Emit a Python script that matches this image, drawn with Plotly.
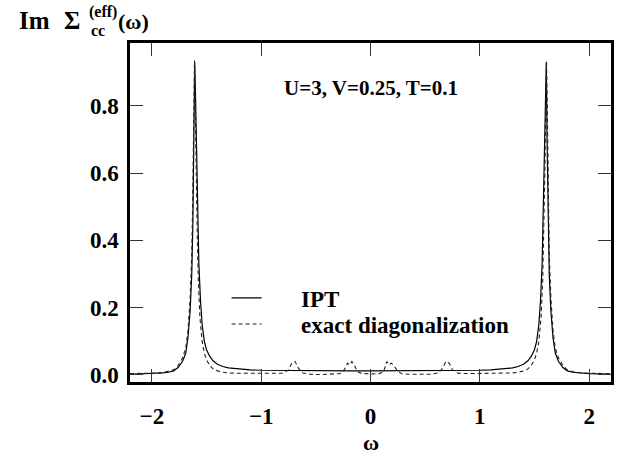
import plotly.graph_objects as go

# ---- data ----
ipt_x = [-2.2, -2.1, -2.0, -1.9, -1.85, -1.8, -1.76, -1.72, -1.69, -1.67,
         -1.65, -1.635, -1.625, -1.615, -1.608, -1.6, -1.59, -1.58, -1.57, -1.555,
         -1.54, -1.52, -1.5, -1.47, -1.44, -1.4, -1.35, -1.3, -1.2, -1.1,
         -1.0, -0.8, -0.6, -0.4, -0.2,
         0.0,
         0.2, 0.4, 0.6, 0.8, 1.0,
         1.1, 1.2, 1.3, 1.35, 1.4, 1.44, 1.47, 1.5, 1.52, 1.54,
         1.555, 1.57, 1.58, 1.59, 1.6, 1.608, 1.615, 1.625, 1.635, 1.65,
         1.67, 1.69, 1.72, 1.76, 1.8, 1.85, 1.9, 2.0, 2.1, 2.2]
ipt_y = [0.002, 0.003, 0.004, 0.006, 0.008, 0.012, 0.022, 0.04, 0.065, 0.11,
         0.19, 0.3, 0.45, 0.7, 0.93, 0.82, 0.64, 0.48, 0.33, 0.22,
         0.15, 0.1, 0.075, 0.055, 0.042, 0.032, 0.025, 0.021, 0.017, 0.015,
         0.014, 0.013, 0.013, 0.012, 0.012,
         0.012,
         0.012, 0.012, 0.013, 0.013, 0.014,
         0.015, 0.017, 0.021, 0.025, 0.032, 0.042, 0.055, 0.075, 0.1, 0.15,
         0.22, 0.33, 0.48, 0.64, 0.82, 0.93, 0.7, 0.45, 0.3, 0.19,
         0.11, 0.065, 0.04, 0.022, 0.012, 0.008, 0.006, 0.004, 0.003, 0.002]

ed_x = [-2.2, -2.1, -2.0, -1.9, -1.85, -1.8, -1.76, -1.72, -1.69, -1.67,
        -1.65, -1.635, -1.625, -1.617, -1.61, -1.603, -1.595, -1.585, -1.575, -1.56,
        -1.54, -1.52, -1.5, -1.47, -1.44, -1.4, -1.35, -1.3, -1.2, -1.0,
        -0.9, -0.8, -0.75, -0.72, -0.69, -0.66, -0.62, -0.55, -0.45, -0.35,
        -0.28, -0.24, -0.21, -0.19, -0.17, -0.15, -0.12, -0.08, -0.03,
        0.0,
        0.03, 0.08, 0.12, 0.15, 0.17, 0.19, 0.21, 0.24, 0.28,
        0.35, 0.45, 0.55, 0.62, 0.66, 0.69, 0.72, 0.75, 0.8, 0.9,
        1.0, 1.2, 1.3, 1.35, 1.4, 1.44, 1.47, 1.5, 1.52, 1.54,
        1.56, 1.575, 1.585, 1.595, 1.603, 1.61, 1.617, 1.625, 1.635, 1.65,
        1.67, 1.69, 1.72, 1.76, 1.8, 1.85, 1.9, 2.0, 2.1, 2.2]
ed_y = [0.004, 0.004, 0.005, 0.007, 0.01, 0.015, 0.028, 0.05, 0.08, 0.13,
        0.23, 0.36, 0.55, 0.8, 0.935, 0.8, 0.6, 0.42, 0.28, 0.17,
        0.1, 0.065, 0.045, 0.028, 0.018, 0.012, 0.008, 0.006, 0.005, 0.004,
        0.004, 0.005, 0.015, 0.035, 0.04, 0.02, 0.006, 0.002, 0.001, 0.002,
        0.004, 0.015, 0.035, 0.03, 0.04, 0.03, 0.01, 0.004, 0.003,
        0.003,
        0.003, 0.004, 0.01, 0.04, 0.03, 0.035, 0.03, 0.015, 0.004,
        0.002, 0.001, 0.002, 0.006, 0.02, 0.04, 0.035, 0.015, 0.005, 0.004,
        0.004, 0.005, 0.006, 0.008, 0.012, 0.018, 0.028, 0.045, 0.065, 0.1,
        0.17, 0.28, 0.42, 0.6, 0.8, 0.935, 0.8, 0.55, 0.36, 0.23,
        0.13, 0.08, 0.05, 0.028, 0.015, 0.01, 0.007, 0.005, 0.004, 0.004]

x_ticks = [-2, -1, 0, 1, 2]
x_ticktext = ["\u22122", "\u22121", "0", "1", "2"]
y_ticks = [0.0, 0.2, 0.4, 0.6, 0.8]
y_ticktext = ["0.0", "0.2", "0.4", "0.6", "0.8"]

names = ["IPT", "exact diagonalization"]
params_text = "U=3, V=0.25, T=0.1"

# ---- layout geometry ----
W, H = 626, 458
ML, MR, MT, MB = 130, 13, 43, 76
PW, PH = W - ML - MR, H - MT - MB


def px_x(p):
    return (p - ML) / PW


def px_y(p):
    return (H - MB - p) / PH


FONT = "Liberation Serif"
FS = 23
pad = "\u00a0" * 6

fig = go.Figure()
fig.add_trace(go.Scatter(x=ipt_x, y=ipt_y, mode="lines", name=pad + names[0],
                         legend="legend",
                         line=dict(color="black", width=1.2)))
fig.add_trace(go.Scatter(x=ed_x, y=ed_y, mode="lines", name=pad + names[1],
                         legend="legend2",
                         line=dict(color="#222", width=1.1, dash="4px,3px")))

leg_common = dict(xanchor="left", yanchor="middle", bgcolor="rgba(0,0,0,0)",
                  font=dict(size=FS, family=FONT, weight="bold", color="black"),
                  itemwidth=30, borderwidth=0)

fig.update_layout(
    width=W, height=H,
    margin=dict(l=ML, r=MR, t=MT, b=MB, pad=0),
    paper_bgcolor="white", plot_bgcolor="white",
    font=dict(family=FONT, size=FS, color="black", weight="bold"),
    showlegend=True,
    legend=dict(x=px_x(227), y=px_y(298), **leg_common),
    legend2=dict(x=px_x(227), y=px_y(324), **leg_common),
    xaxis=dict(range=[-2.2, 2.2], tickvals=x_ticks, ticktext=x_ticktext,
               ticks="inside", ticklen=13, tickwidth=1.3, tickcolor="#333",
               showline=True, linewidth=2.5, linecolor="black", mirror="allticks",
               showgrid=False, zeroline=False, ticklabelstandoff=12),
    yaxis=dict(range=[-0.021, 0.987], tickvals=y_ticks, ticktext=y_ticktext,
               ticks="inside", ticklen=13, tickwidth=1.3, tickcolor="#333",
               showline=True, linewidth=2.5, linecolor="black", mirror="allticks",
               showgrid=False, zeroline=False, ticklabelstandoff=4),
    yaxis2=dict(range=[-0.021, 0.987], overlaying="y", tickvals=[0.0],
                ticks="inside", ticklen=15, tickwidth=3.5, tickcolor="black",
                showticklabels=False, showline=False, mirror="ticks",
                showgrid=False, zeroline=False),
)

ann = [
    dict(text=params_text, x=0.0, y=0.853, xref="x", yref="y",
         xanchor="center", yanchor="middle", font=dict(size=21)),
    dict(text="\u03c9", x=px_x(372), y=px_y(442), xref="paper", yref="paper",
         xanchor="center", yanchor="middle", font=dict(size=22)),
    dict(text="Im", x=px_x(17), y=px_y(21), xref="paper", yref="paper",
         xanchor="left", yanchor="middle", font=dict(size=25)),
    dict(text="\u03a3", x=px_x(62), y=px_y(21), xref="paper", yref="paper",
         xanchor="left", yanchor="middle", font=dict(size=25)),
    dict(text="(eff)", x=px_x(87), y=px_y(12), xref="paper", yref="paper",
         xanchor="left", yanchor="middle", font=dict(size=16)),
    dict(text="cc", x=px_x(89), y=px_y(31), xref="paper", yref="paper",
         xanchor="left", yanchor="middle", font=dict(size=16)),
    dict(text="(\u03c9)", x=px_x(116), y=px_y(22), xref="paper", yref="paper",
         xanchor="left", yanchor="middle", font=dict(size=22)),
]
for a in ann:
    a["showarrow"] = False
    a["font"].update(family=FONT, weight="bold", color="black")
fig.update_layout(annotations=ann)

fig.write_html("out.html")
